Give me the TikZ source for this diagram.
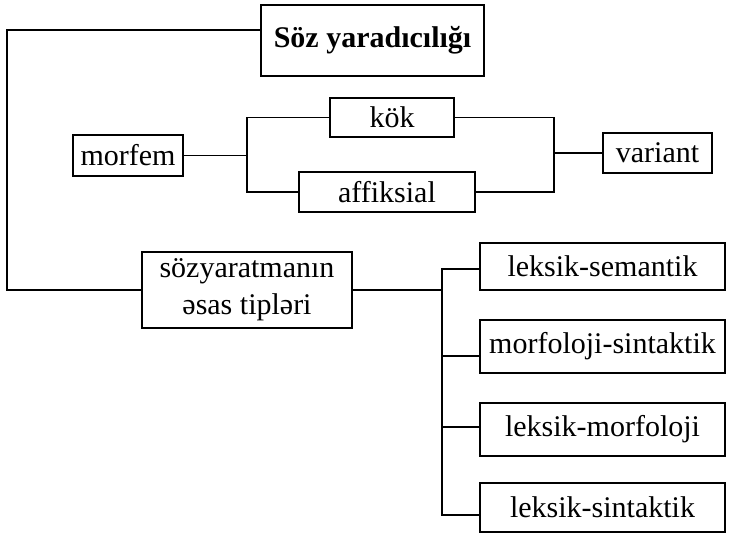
\documentclass[tikz,border=0pt]{standalone}
\usepackage{fontspec}
\setmainfont{Liberation Serif}
\begin{document}
\begin{tikzpicture}[x=1pt,y=-1pt,
  box/.style={draw, line width=1.1pt, inner sep=0pt, align=center,
    font=\fontsize{30}{37}\selectfont},
  link/.style={line width=1.1pt}]
\useasboundingbox (0,0) rectangle (730,534);

% title and first level
\node[box, minimum width=223pt, minimum height=71pt, font=\fontsize{30}{37}\selectfont\bfseries]
  (soz) at (372.5,40.5) {Söz yaradıcılığı};
\node[box, minimum width=110pt, minimum height=41pt] (morfem) at (128,155.5) {morfem};
\node[box, minimum width=124pt, minimum height=39pt] (kok) at (392,117.5) {kök};
\node[box, minimum width=176pt, minimum height=40pt] (affiksial) at (387,192) {affiksial};
\node[box, minimum width=109pt, minimum height=40pt] (variant) at (657.5,153) {variant};
\node[box, minimum width=210pt, minimum height=76pt] (tipler) at (247,290)
  {sözyaratmanın\\əsas tipləri};

% types of word formation
\node[box, minimum width=245pt, minimum height=47pt] (ls) at (602.5,266.5) {leksik-semantik};
\node[box, minimum width=245pt, minimum height=53pt] (ms) at (602.5,346.5) {morfoloji-sintaktik};
\node[box, minimum width=245pt, minimum height=53pt] (lm) at (602.5,429.5) {leksik-morfoloji};
\node[box, minimum width=245pt, minimum height=49pt] (lsin) at (602.5,507.5) {leksik-sintaktik};

% junction points
\coordinate (lc) at (7,290);
\coordinate (mb) at (247,155.5);
\coordinate (vb) at (554,153);
\coordinate (rt) at (442,290);

% title to the basic types
\draw[link] ([yshift=10.5pt]soz.west) -| (lc) -- (tipler.west);

% morpheme branches
\draw[link] (morfem.east) -- (mb);
\draw[link] (kok.west) -| (mb) |- (affiksial.west);

% variant branches
\draw[link] (kok.east) -| (vb) |- (affiksial.east);
\draw[link] (vb) -- (variant.west);

% basic types tree
\draw[link] (tipler.east) -- (rt);
\draw[link] (rt) |- ([yshift=-2.5pt]ls.west);
\draw[link] (rt) |- ([yshift=-9.5pt]ms.west);
\draw[link] (rt) |- ([yshift=2.5pt]lm.west);
\draw[link] (rt) |- ([yshift=-7.5pt]lsin.west);
\end{tikzpicture}
\end{document}
